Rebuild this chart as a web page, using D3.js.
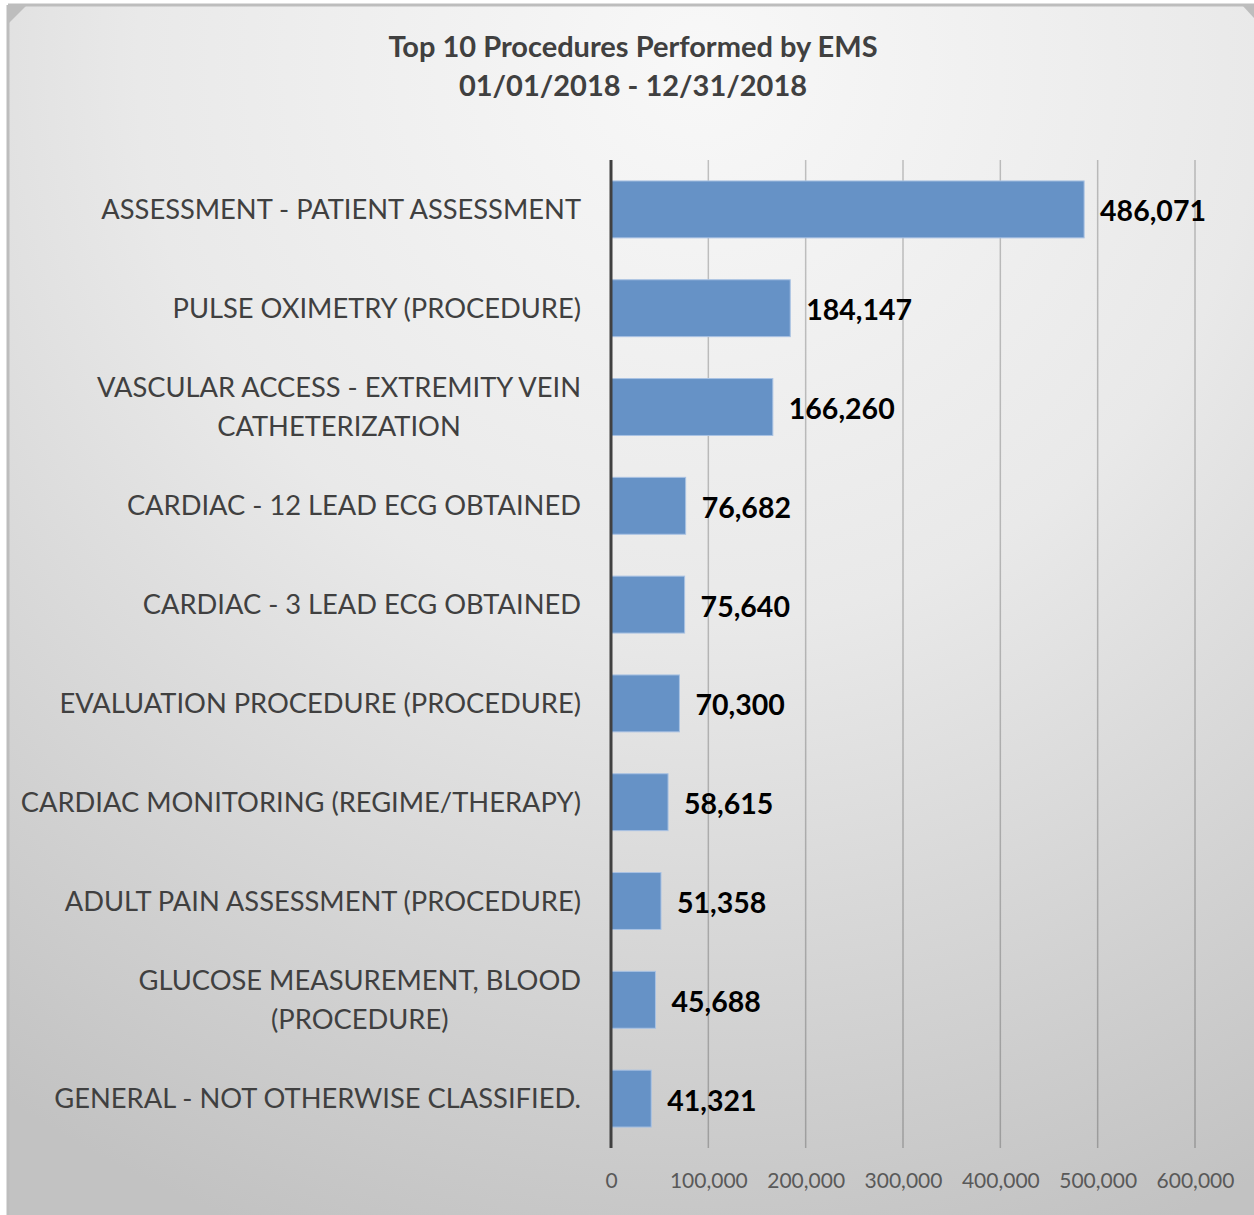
<!DOCTYPE html>
<html>
<head>
<meta charset="utf-8">
<script src="https://cdn.jsdelivr.net/npm/d3@7"></script>
<style>
  body { margin: 0; background: #fff; }
  svg { display: block; }
</style>
</head>
<body>
<div id="chart"></div>
<script>
let categories = [
  'ASSESSMENT - PATIENT ASSESSMENT',
  'PULSE OXIMETRY (PROCEDURE)',
  'VASCULAR ACCESS - EXTREMITY VEIN CATHETERIZATION',
  'CARDIAC - 12 LEAD ECG OBTAINED',
  'CARDIAC - 3 LEAD ECG OBTAINED',
  'EVALUATION PROCEDURE (PROCEDURE)',
  'CARDIAC MONITORING (REGIME/THERAPY)',
  'ADULT PAIN ASSESSMENT (PROCEDURE)',
  'GLUCOSE MEASUREMENT, BLOOD (PROCEDURE)',
  'GENERAL - NOT OTHERWISE CLASSIFIED.'
]
let counts = [486071, 184147, 166260, 76682, 75640, 70300, 58615, 51358, 45688, 41321]
let xTicks = [0, 100000, 200000, 300000, 400000, 500000, 600000]
let titleLines = ['Top 10 Procedures Performed by EMS', '01/01/2018 - 12/31/2018']

let width = 1254
let height = 1215
let margin = { top: 160, left: 611, right: 59, bottom: 67 }

let font = 'Lato, "Open Sans", sans-serif'
let labelSize = 27.3

let svg = d3.select('#chart')
  .append('svg')
  .attr('width', width)
  .attr('height', height)

// background
let defs = svg.append('defs')
let grad = defs.append('radialGradient')
  .attr('id', 'bg')
  .attr('gradientUnits', 'userSpaceOnUse')
  .attr('cx', 700).attr('cy', 60).attr('r', 1250)
grad.append('stop').attr('offset', '0%').attr('stop-color', '#f8f8f8')
grad.append('stop').attr('offset', '45%').attr('stop-color', '#e9e9e9')
grad.append('stop').attr('offset', '100%').attr('stop-color', '#c2c2c2')

svg.append('rect')
  .attr('x', 8).attr('y', 5)
  .attr('width', width - 8).attr('height', height - 5)
  .attr('fill', 'url(#bg)')

svg.append('path')
  .attr('d', `M8,5 H${width} M8,5 V${height}`)
  .attr('stroke', '#bdbdbd')
  .attr('stroke-width', 3)
  .attr('fill', 'none')

svg.append('path').attr('d', 'M8,5 L27,5 L8,24 Z').attr('fill', '#bdbdbd')
svg.append('path').attr('d', `M${width - 12},5 L${width},5 L${width},18 Z`).attr('fill', '#bdbdbd')

// title
svg.append('g')
  .selectAll('text')
  .data(titleLines)
  .enter()
  .append('text')
  .attr('x', 633)
  .attr('y', (d, i) => 57 + i * 39)
  .attr('text-anchor', 'middle')
  .attr('font-family', font)
  .attr('font-weight', 700)
  .attr('font-size', 29)
  .attr('fill', '#404040')
  .text(d => d)

let xScale = d3.scaleLinear()
  .domain([0, 600000])
  .range([margin.left, width - margin.right])

let yScale = d3.scaleBand()
  .domain(categories)
  .range([margin.top, height - margin.bottom])
  .paddingInner(0.424)
  .paddingOuter(0.212)

// gridlines
svg.append('g')
  .selectAll('line')
  .data(xTicks.slice(1))
  .enter()
  .append('line')
  .attr('x1', d => xScale(d))
  .attr('x2', d => xScale(d))
  .attr('y1', margin.top)
  .attr('y2', height - margin.bottom)
  .attr('stroke', 'rgba(0,0,0,0.22)')
  .attr('stroke-width', 1.5)

// bars
svg.append('g')
  .selectAll('rect')
  .data(counts)
  .enter()
  .append('rect')
  .attr('x', xScale(0))
  .attr('y', (d, i) => yScale(categories[i]))
  .attr('width', d => xScale(d) - xScale(0))
  .attr('height', yScale.bandwidth())
  .attr('fill', '#6692c6')
  .attr('stroke', '#a9c2e3')
  .attr('stroke-width', 1)

// value labels
svg.append('g')
  .selectAll('text')
  .data(counts)
  .enter()
  .append('text')
  .attr('x', d => xScale(d) + 16)
  .attr('y', (d, i) => yScale(categories[i]) + yScale.bandwidth() / 2 + 2)
  .attr('dy', '0.35em')
  .attr('font-family', font)
  .attr('font-weight', 700)
  .attr('font-size', 28.5)
  .attr('fill', '#000')
  .text(d => d3.format(',')(d))

// axis line
svg.append('line')
  .attr('x1', xScale(0)).attr('x2', xScale(0))
  .attr('y1', margin.top).attr('y2', height - margin.bottom)
  .attr('stroke', '#404040')
  .attr('stroke-width', 3)

// x axis tick labels
let xAxis = d3.axisBottom(xScale)
  .tickValues(xTicks)
  .tickSize(0)
  .tickPadding(0)
  .tickFormat(d3.format(','))

svg.append('g')
  .attr('transform', `translate(0, ${height - margin.bottom + 25})`)
  .call(xAxis)
  .call(g => g.select('.domain').remove())
  .call(g => g.selectAll('text')
    .attr('font-family', font)
    .attr('font-size', 21)
    .attr('fill', '#595959'))

// category labels, wrapped like the original
let labelG = svg.append('g')
let labelRight = 581
let maxLabelWidth = 600

function textWidth(s) {
  let t = labelG.append('text').attr('font-family', font).attr('font-size', labelSize).text(s)
  let w = t.node().getComputedTextLength()
  t.remove()
  return w
}

categories.forEach(name => {
  let lines = []
  let line = []
  name.split(' ').forEach(w => {
    if (line.length && textWidth(line.concat(w).join(' ')) > maxLabelWidth) {
      lines.push(line.join(' '))
      line = [w]
    } else {
      line.push(w)
    }
  })
  lines.push(line.join(' '))

  // widest line sets the block; lines are centered on each other
  let blockWidth = d3.max(lines, textWidth)
  let cx = labelRight - blockWidth / 2
  let cy = yScale(name) + yScale.bandwidth() / 2

  labelG.selectAll(null)
    .data(lines)
    .enter()
    .append('text')
    .attr('x', cx)
    .attr('y', (d, i) => cy + (i - (lines.length - 1) / 2) * 39)
    .attr('dy', '0.35em')
    .attr('text-anchor', 'middle')
    .attr('font-family', font)
    .attr('font-size', labelSize)
    .attr('fill', '#404040')
    .text(d => d)
})
</script>
</body>
</html>
